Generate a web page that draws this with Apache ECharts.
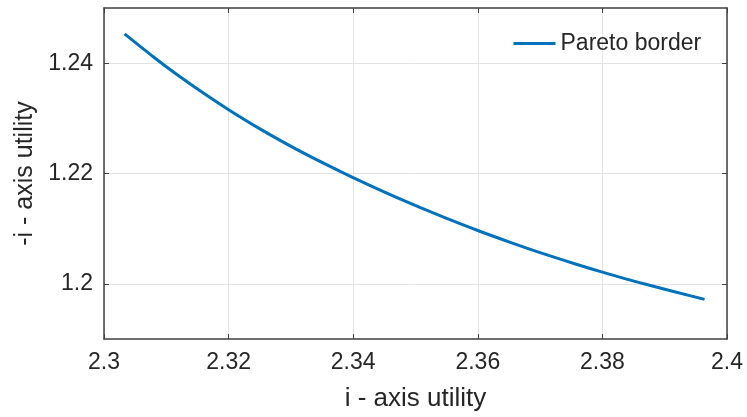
<!DOCTYPE html>
<html>
<head>
<meta charset="utf-8">
<script src="https://cdn.jsdelivr.net/npm/echarts@6/dist/echarts.min.js"></script>
<style>
html,body{margin:0;padding:0;background:#fff;}
#chart{width:747px;height:417px;}
</style>
</head>
<body>
<div id="chart"></div>
<script>
var xValues = [2.3033, 2.3080, 2.3117, 2.3160, 2.3200, 2.3251, 2.3310, 2.3358, 2.3399, 2.3454, 2.3507, 2.3545, 2.3601, 2.3651, 2.3705, 2.3758, 2.3800, 2.3865, 2.3964];
var yValues = [1.24530, 1.24107, 1.23793, 1.23453, 1.23157, 1.22805, 1.22433, 1.22155, 1.21929, 1.21643, 1.21384, 1.21209, 1.20962, 1.20757, 1.20547, 1.20356, 1.20213, 1.20005, 1.19718];
var seriesName = 'Pareto border';
var xTicks = [2.3, 2.32, 2.34, 2.36, 2.38, 2.4];
var yTicks = [1.2, 1.22, 1.24];

var points = xValues.map(function (x, i) { return [x, yValues[i]]; });
var font = 'Arial, "Liberation Sans", Helvetica, sans-serif';
var axisCol = '#404040';
var textCol = '#262626';

var chart = echarts.init(document.getElementById('chart'));
chart.setOption({
  animation: false,
  backgroundColor: '#fff',
  grid: { left: 104, right: 20, top: 8, bottom: 77, containLabel: false },
  legend: {
    left: 507, top: 27,
    itemWidth: 42, itemHeight: 14, itemGap: 10,
    itemStyle: { color: 'transparent', borderWidth: 0, opacity: 0 },
    lineStyle: { color: '#0072BD', width: 3 },
    textStyle: { fontFamily: font, fontSize: 23, color: textCol },
    data: [seriesName]
  },
  xAxis: [{
    type: 'value', min: 2.3, max: 2.4, interval: 0.02,
    name: 'i - axis utility', nameLocation: 'middle', nameGap: 47,
    nameTextStyle: { fontFamily: font, fontSize: 26, color: textCol },
    axisLine: { lineStyle: { color: axisCol, width: 1.5 } },
    axisTick: { inside: true, length: 5, lineStyle: { color: axisCol } },
    axisLabel: { margin: 12, fontFamily: font, fontSize: 23, color: textCol,
      formatter: function (v) { return String(+v.toFixed(2)); } },
    splitLine: { show: true, lineStyle: { color: '#e3e3e3', width: 1 } }
  }, {
    type: 'value', position: 'top', min: 2.3, max: 2.4, interval: 0.02,
    axisLine: { show: true, lineStyle: { color: axisCol, width: 1.5 } },
    axisTick: { show: true, inside: true, length: 5, lineStyle: { color: axisCol } },
    axisLabel: { show: false }, splitLine: { show: false }
  }],
  yAxis: [{
    type: 'value', min: 1.19, max: 1.25, interval: 0.01,
    name: '-i - axis utility', nameLocation: 'middle', nameGap: 66,
    nameTextStyle: { fontFamily: font, fontSize: 25, color: textCol },
    axisLine: { show: true, lineStyle: { color: axisCol, width: 1.5 } },
    axisTick: { show: true, inside: true, length: 5, lineStyle: { color: axisCol },
      customValues: yTicks },
    axisLabel: { margin: 11, fontFamily: font, fontSize: 23, color: textCol,
      customValues: yTicks,
      formatter: function (v) { return String(+v.toFixed(2)); } },
    splitLine: { show: true, lineStyle: { color: '#e3e3e3', width: 1 } }
  }, {
    type: 'value', position: 'right', min: 1.19, max: 1.25, interval: 0.01,
    axisLine: { show: true, lineStyle: { color: axisCol, width: 1.5 } },
    axisTick: { show: true, inside: true, length: 5, lineStyle: { color: axisCol },
      customValues: yTicks },
    axisLabel: { show: false }, splitLine: { show: false }
  }],
  series: [{
    name: seriesName, type: 'line', data: points,
    smooth: 0.3, symbol: 'none', showSymbol: false,
    lineStyle: { color: '#0072BD', width: 3 },
    itemStyle: { color: '#0072BD' }
  }]
});
</script>
</body>
</html>
